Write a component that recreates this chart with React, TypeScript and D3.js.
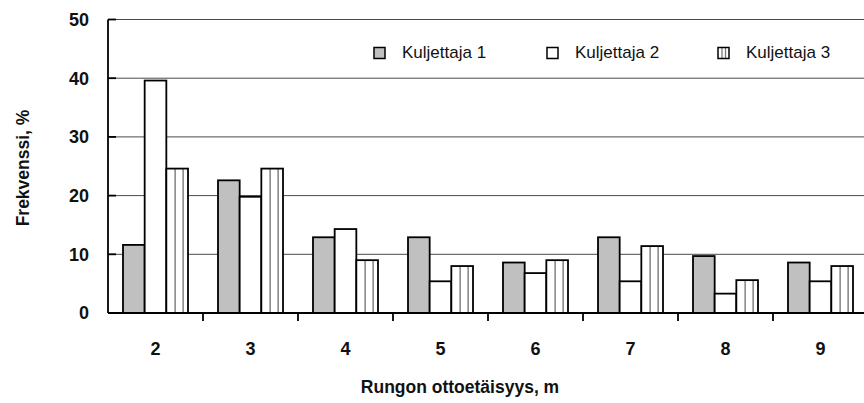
import React, { useEffect, useRef } from 'react';
import * as d3 from 'd3';

// distances (m) on the x axis
const categories: string[] = ['2', '3', '4', '5', '6', '7', '8', '9'];
const seriesNames: string[] = ['Kuljettaja 1', 'Kuljettaja 2', 'Kuljettaja 3'];
// frequency (%) per driver
const driver1: number[] = [11.6, 22.6, 12.9, 12.9, 8.6, 12.9, 9.7, 8.6];
const driver2: number[] = [39.6, 19.8, 14.3, 5.4, 6.8, 5.4, 3.3, 5.4];
const driver3: number[] = [24.6, 24.6, 9.0, 8.0, 9.0, 11.4, 5.6, 8.0];
const yTicks: number[] = [0, 10, 20, 30, 40, 50];

const App: React.FC = () => {
  const svgRef = useRef<SVGSVGElement | null>(null);

  useEffect(() => {
    if (!svgRef.current) return;
    d3.select(svgRef.current).selectAll('*').remove();

    const width = 864;
    const height = 403;
    // the plot runs past the right edge of the picture, as in the original
    const margin = { top: 19.5, left: 108, plotRight: 868, bottom: 313 };
    const font = '"Liberation Sans", Arial, sans-serif';

    const svg = d3.select(svgRef.current)
      .attr('width', width)
      .attr('height', height)
      .attr('viewBox', `0 0 ${width} ${height}`)
      .style('font-family', font);

    svg.append('rect').attr('width', width).attr('height', height).attr('fill', '#fff');

    const x0 = d3.scaleBand<string>()
      .domain(categories)
      .range([margin.left, margin.plotRight])
      .paddingInner(0.3158)
      .paddingOuter(0.1579);

    const x1 = d3.scaleBand<string>()
      .domain(seriesNames)
      .range([0, x0.bandwidth()]);

    const y = d3.scaleLinear()
      .domain([0, 50])
      .range([margin.bottom, margin.top]);

    // gridlines
    svg.append('g')
      .selectAll('line')
      .data(yTicks.filter(d => d > 0))
      .enter()
      .append('line')
      .attr('x1', margin.left)
      .attr('x2', width)
      .attr('y1', d => y(d))
      .attr('y2', d => y(d))
      .attr('stroke', '#4a4a4a')
      .attr('stroke-width', 1);

    // bars
    const data = [driver1, driver2, driver3];
    const fills = ['#c0c0c0', '#ffffff', '#ffffff'];

    seriesNames.forEach((name, si) => {
      const g = svg.append('g');
      categories.forEach((cat, ci) => {
        const bx = (x0(cat) as number) + (x1(name) as number);
        const bw = x1.bandwidth();
        const by = y(data[si][ci]);
        g.append('rect')
          .attr('x', bx)
          .attr('y', by)
          .attr('width', bw)
          .attr('height', y(0) - by)
          .attr('fill', fills[si]);
        if (si === 2) {
          [8.8, 16.8].forEach(off => {
            g.append('line')
              .attr('x1', bx + off)
              .attr('x2', bx + off)
              .attr('y1', by)
              .attr('y2', y(0))
              .attr('stroke', '#7a7a7a')
              .attr('stroke-width', 1.4);
          });
        }
        g.append('rect')
          .attr('x', bx)
          .attr('y', by)
          .attr('width', bw)
          .attr('height', y(0) - by)
          .attr('fill', 'none')
          .attr('stroke', '#000')
          .attr('stroke-width', 1.8);
      });
    });

    // y axis
    svg.append('line')
      .attr('x1', margin.left).attr('x2', margin.left)
      .attr('y1', y(50)).attr('y2', y(0))
      .attr('stroke', '#000').attr('stroke-width', 1.8);

    svg.append('g')
      .selectAll('line')
      .data(yTicks)
      .enter()
      .append('line')
      .attr('x1', margin.left)
      .attr('x2', margin.left + 8)
      .attr('y1', d => y(d))
      .attr('y2', d => y(d))
      .attr('stroke', '#000')
      .attr('stroke-width', 1.8);

    svg.append('g')
      .selectAll('text')
      .data(yTicks)
      .enter()
      .append('text')
      .attr('x', 89)
      .attr('y', d => y(d))
      .attr('dy', '0.36em')
      .attr('text-anchor', 'end')
      .attr('font-size', 18)
      .attr('font-weight', 'bold')
      .attr('fill', '#111')
      .text(d => d);

    // x axis
    svg.append('line')
      .attr('x1', margin.left).attr('x2', width)
      .attr('y1', y(0)).attr('y2', y(0))
      .attr('stroke', '#000').attr('stroke-width', 1.8);

    svg.append('g')
      .selectAll('line')
      .data(categories.slice(1))
      .enter()
      .append('line')
      .attr('x1', d => (x0(d) as number) - x0.step() * 0.3158 / 2)
      .attr('x2', d => (x0(d) as number) - x0.step() * 0.3158 / 2)
      .attr('y1', y(0))
      .attr('y2', y(0) + 8)
      .attr('stroke', '#000')
      .attr('stroke-width', 1.8);

    svg.append('g')
      .selectAll('text')
      .data(categories)
      .enter()
      .append('text')
      .attr('x', d => (x0(d) as number) + x0.bandwidth() / 2)
      .attr('y', 355)
      .attr('text-anchor', 'middle')
      .attr('font-size', 18)
      .attr('font-weight', 'bold')
      .attr('fill', '#111')
      .text(d => d);

    // axis titles
    svg.append('text')
      .attr('transform', 'translate(29,168) rotate(-90)')
      .attr('text-anchor', 'middle')
      .attr('font-size', 17.5)
      .attr('font-weight', 'bold')
      .attr('fill', '#111')
      .text('Frekvenssi, %');

    svg.append('text')
      .attr('x', 460)
      .attr('y', 393)
      .attr('text-anchor', 'middle')
      .attr('font-size', 17.5)
      .attr('font-weight', 'bold')
      .attr('fill', '#111')
      .text('Rungon ottoetäisyys, m');

    // legend
    const legendX = [374, 547, 718];
    seriesNames.forEach((name, i) => {
      const lg = svg.append('g').attr('transform', `translate(${legendX[i]},47.5)`);
      lg.append('rect')
        .attr('width', 11).attr('height', 11)
        .attr('fill', fills[i]);
      if (i === 2) {
        [4, 7.5].forEach(off => {
          lg.append('line')
            .attr('x1', off).attr('x2', off)
            .attr('y1', 0).attr('y2', 11)
            .attr('stroke', '#7a7a7a').attr('stroke-width', 1.3);
        });
      }
      lg.append('rect')
        .attr('width', 11).attr('height', 11)
        .attr('fill', 'none')
        .attr('stroke', '#000').attr('stroke-width', 1.5);
      lg.append('text')
        .attr('x', 28)
        .attr('y', 10)
        .attr('font-size', 17)
        .attr('fill', '#111')
        .text(name);
    });
  }, []);

  return (
    <div style={{ position: 'absolute', left: 0, top: 0, width: 864, height: 403, background: '#fff' }}>
      <svg ref={svgRef} style={{ display: 'block' }}></svg>
    </div>
  );
};

export default App;
